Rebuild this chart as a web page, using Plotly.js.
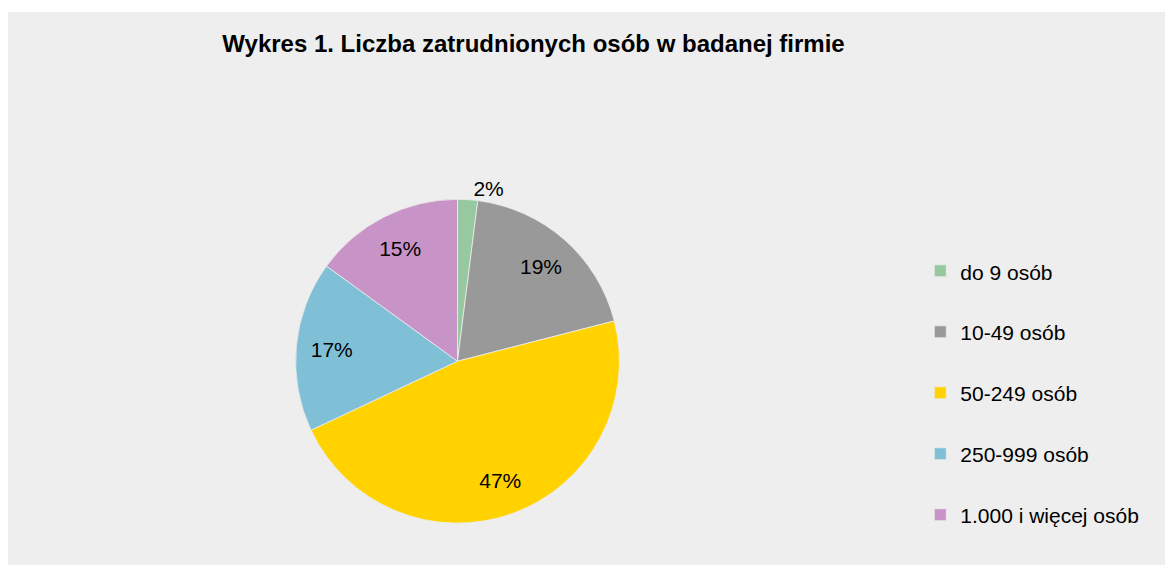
<!DOCTYPE html>
<html>
<head>
<meta charset="utf-8">
<script src="https://cdn.plot.ly/plotly-3.0.1.min.js"></script>
<style>
  html, body { margin: 0; padding: 0; background: #ffffff; }
  #chart { position: absolute; left: 8px; top: 12px; width: 1157px; height: 553px; }
</style>
</head>
<body>
<div id="chart"></div>
<script>
const categories = ["do 9 osób", "10-49 osób", "50-249 osób", "250-999 osób", "1.000 i więcej osób"];
const shares = [2, 19, 47, 17, 15];
const sliceColors = ["#97C9A0", "#999999", "#FFD200", "#80C0D7", "#C893C7"];
const labelPositions = ["outside", "inside", "inside", "inside", "inside"];

const FONT = "Liberation Sans, Arial, Helvetica, sans-serif";
const pieDomain = { x: [287 / 1157, 612 / 1157], y: [40 / 553, 365 / 553] };

// Base pie: coloured slices and legend entries
const basePie = {
  type: "pie",
  labels: categories.map(c => '<span style="font-size:21px">' + c + "</span><br> "),
  values: shares,
  sort: false,
  direction: "clockwise",
  rotation: 0,
  marker: { colors: sliceColors, line: { color: "#EEEEEE", width: 0.8 } },
  textinfo: "none",
  hoverinfo: "label+percent",
  domain: pieDomain,
  showlegend: true
};

// Transparent ring on top, used only to place the percentage labels further out
const labelRing = {
  type: "pie",
  labels: categories.map(c => "ring " + c),
  values: shares,
  sort: false,
  direction: "clockwise",
  rotation: 0,
  hole: 0.56,
  marker: { colors: categories.map(() => "rgba(0,0,0,0)"), line: { width: 0 } },
  texttemplate: "%{percent:.0%}",
  textposition: labelPositions,
  insidetextorientation: "horizontal",
  textfont: { family: FONT, size: 21, color: "#000000" },
  outsidetextfont: { family: FONT, size: 21, color: "#000000" },
  hoverinfo: "skip",
  domain: pieDomain,
  showlegend: false
};

const layout = {
  width: 1157,
  height: 553,
  margin: { l: 0, r: 0, t: 0, b: 0 },
  paper_bgcolor: "#EEEEEE",
  plot_bgcolor: "#EEEEEE",
  font: { family: FONT, color: "#000000" },
  title: {
    text: "<b>Wykres 1. Liczba zatrudnionych osób w badanej firmie</b>",
    font: { family: FONT, size: 24, color: "#000000" },
    x: 0.4542, xanchor: "center",
    y: 0.943, yanchor: "middle",
    xref: "paper", yref: "container"
  },
  legend: {
    x: 0.7885, xanchor: "left",
    y: 0.5684, yanchor: "top",
    valign: "top",
    font: { family: FONT, size: 22.3, color: "#000000" },
    bgcolor: "rgba(0,0,0,0)",
    traceorder: "normal"
  }
};

Plotly.newPlot("chart", [basePie, labelRing], layout, { displayModeBar: false, staticPlot: true });
</script>
</body>
</html>
